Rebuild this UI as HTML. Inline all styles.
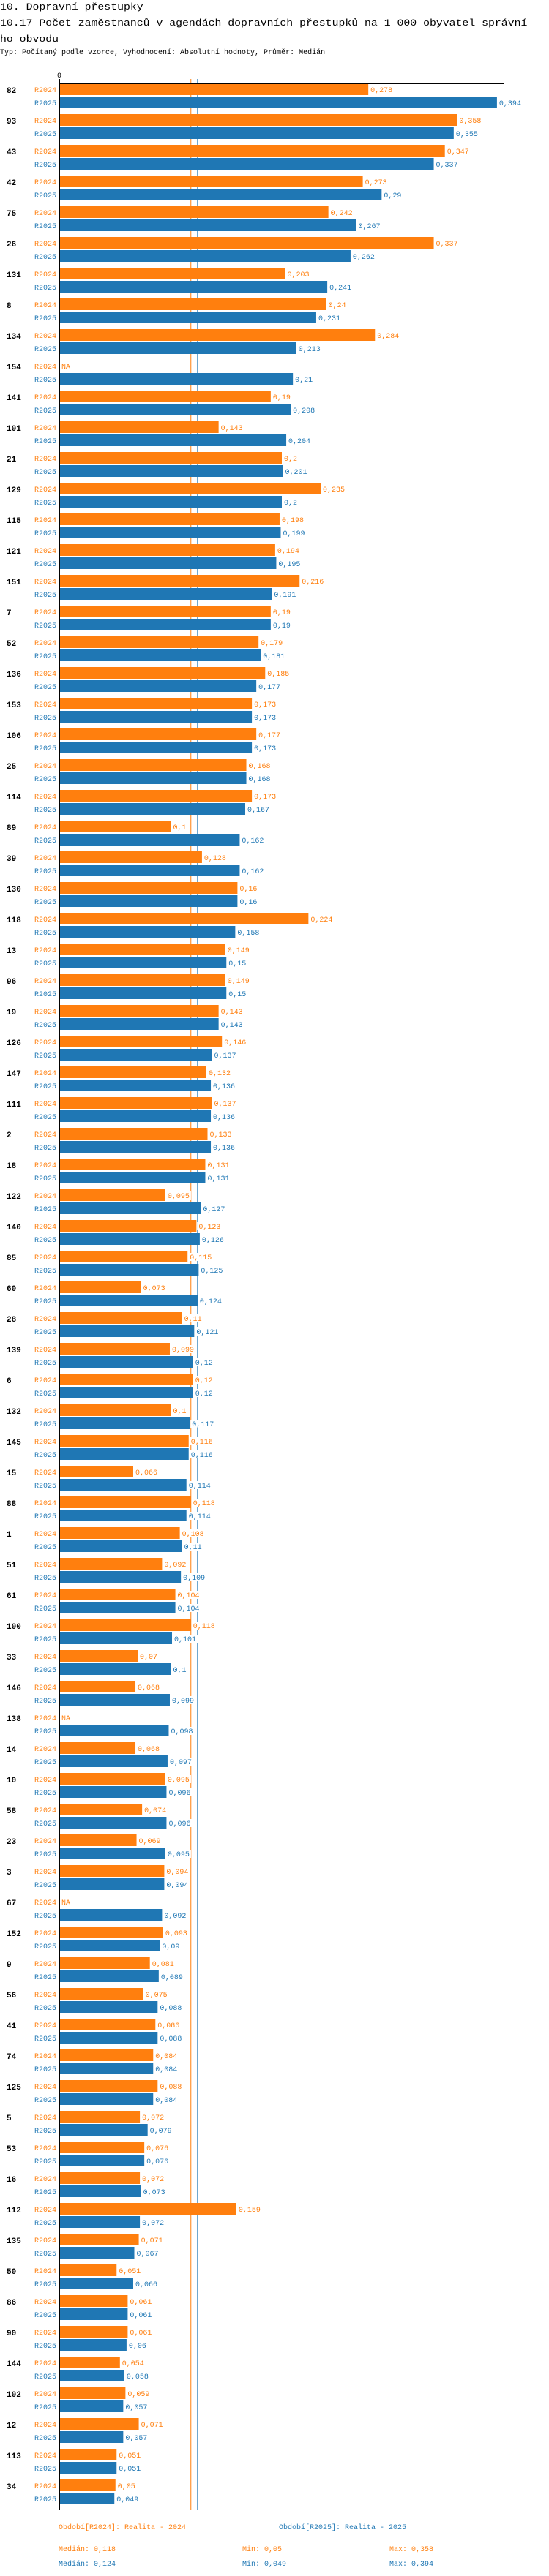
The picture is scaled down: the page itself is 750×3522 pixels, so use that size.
<!DOCTYPE html>
<html lang="cs">
<head>
<meta charset="utf-8">
<style>
  html,body{margin:0;padding:0;background:#fff;}
  body{width:750px;height:3522px;overflow:hidden;position:relative;font-family:"Liberation Mono",monospace;}
  .t{position:absolute;left:0;white-space:pre;font-size:13px;line-height:13px;color:#000;transform-origin:0 50%;transform:scaleX(1.14);}
  .sub{position:absolute;left:0;top:68px;white-space:pre;font-size:10px;line-height:10px;color:#000;}
  svg{position:absolute;left:0;top:0;}
</style>
</head>
<body>
<div class="t" style="top:3px">10. Dopravní přestupky</div>
<div class="t" style="top:25px">10.17 Počet zaměstnanců v agendách dopravních přestupků na 1 000 obyvatel správní</div>
<div class="t" style="top:47px">ho obvodu</div>
<div class="sub">Typ: Počítaný podle vzorce, Vyhodnocení: Absolutní hodnoty, Průměr: Medián</div>
<svg id="chart" width="750" height="3522"></svg>
<script>
const categories = ["82","93","43","42","75","26","131","8","134","154","141","101","21","129","115","121","151","7","52","136","153","106","25","114","89","39","130","118","13","96","19","126","147","111","2","18","122","140","85","60","28","139","6","132","145","15","88","1","51","61","100","33","146","138","14","10","58","23","3","67","152","9","56","41","74","125","5","53","16","112","135","50","86","90","144","102","12","113","34"];
const values2024 = [0.278,0.358,0.347,0.273,0.242,0.337,0.203,0.24,0.284,null,0.19,0.143,0.2,0.235,0.198,0.194,0.216,0.19,0.179,0.185,0.173,0.177,0.168,0.173,0.1,0.128,0.16,0.224,0.149,0.149,0.143,0.146,0.132,0.137,0.133,0.131,0.095,0.123,0.115,0.073,0.11,0.099,0.12,0.1,0.116,0.066,0.118,0.108,0.092,0.104,0.118,0.07,0.068,null,0.068,0.095,0.074,0.069,0.094,null,0.093,0.081,0.075,0.086,0.084,0.088,0.072,0.076,0.072,0.159,0.071,0.051,0.061,0.061,0.054,0.059,0.071,0.051,0.05];
const values2025 = [0.394,0.355,0.337,0.29,0.267,0.262,0.241,0.231,0.213,0.21,0.208,0.204,0.201,0.2,0.199,0.195,0.191,0.19,0.181,0.177,0.173,0.173,0.168,0.167,0.162,0.162,0.16,0.158,0.15,0.15,0.143,0.137,0.136,0.136,0.136,0.131,0.127,0.126,0.125,0.124,0.121,0.12,0.12,0.117,0.116,0.114,0.114,0.11,0.109,0.104,0.101,0.1,0.099,0.098,0.097,0.096,0.096,0.095,0.094,0.092,0.09,0.089,0.088,0.088,0.084,0.084,0.079,0.076,0.073,0.072,0.067,0.066,0.061,0.06,0.058,0.057,0.057,0.051,0.049];
const median2024 = 0.118;
const median2025 = 0.124;
const seriesNames = ["R2024","R2025"];

const NS = "http://www.w3.org/2000/svg";
const svg = document.getElementById("chart");
const X0 = 81, SCALE = 1515, Y0 = 123, PITCH = 42;
const ORANGE = "#ff7f0e", BLUE = "#1f77b4";
const xPos = v => X0 + 1 + v * SCALE;
const yPos = i => Y0 + i * PITCH;
const fmt = v => String(v).replace(".", ",");

function mk(tag, attrs, text) {
  const e = document.createElementNS(NS, tag);
  for (const k in attrs) e.setAttribute(k, attrs[k]);
  if (text !== undefined) e.textContent = text;
  svg.appendChild(e);
  return e;
}

const bottom = 3432;
let e;
e = mk("line", {x1: xPos(median2024), x2: xPos(median2024), y1: 108, y2: bottom, stroke: ORANGE, "stroke-width": 1});


e = mk("line", {x1: xPos(median2025), x2: xPos(median2025), y1: 108, y2: bottom, stroke: BLUE, "stroke-width": 1});



categories.forEach((c, i) => {
  const ly = yPos(i);
  let t = mk("text", {x: 9, y: ly + 4, "font-size": 11, "font-weight": "bold", "font-family": "Liberation Mono, monospace", fill: "#000"}, c);
  
  
  [values2024[i], values2025[i]].forEach((v, s) => {
    const col = s === 0 ? ORANGE : BLUE;
    const top = ly - 9 + s * 18;
    const mid = top + 12;
    let l = mk("text", {x: 77, y: mid, "text-anchor": "end", "font-size": 10, "font-family": "Liberation Mono, monospace", fill: col}, seriesNames[s]);
    
    
    if (v === null) {
      let n = mk("text", {x: X0 + 3, y: mid, "font-size": 10, "font-family": "Liberation Mono, monospace", fill: col}, "NA");
      
      
      return;
    }
    let b = mk("rect", {x: X0 + 1, y: top, width: xPos(v) - X0 - 1, height: 16, fill: col});
    
    
    const g = mk("rect", {x: xPos(v) + 1, y: top + 3, width: fmt(v).length * 6 + 4, height: 11, fill: "#fff"});
    
    
    let vl = mk("text", {x: xPos(v) + 3, y: mid, "font-size": 10, "font-family": "Liberation Mono, monospace", fill: col}, fmt(v));
    
    
  });
});

e = mk("line", {x1: X0, x2: 689, y1: 114.5, y2: 114.5, stroke: "#000", "stroke-width": 1});


e = mk("line", {x1: X0, x2: X0, y1: 108, y2: bottom, stroke: "#000", "stroke-width": 2});


e = mk("text", {x: X0, y: 106, "text-anchor": "middle", "font-size": 10, "font-family": "Liberation Mono, monospace", fill: "#000"}, "0");



const legendRows = [
  [80, 3458, ORANGE, "Období[R2024]: Realita - 2024", "legend-entry-2024"],
  [381, 3458, BLUE, "Období[R2025]: Realita - 2025", "legend-entry-2025"],
  [80, 3488, ORANGE, "Medián: 0,118", "stat-median-2024"],
  [331, 3488, ORANGE, "Min: 0,05", "stat-min-2024"],
  [532, 3488, ORANGE, "Max: 0,358", "stat-max-2024"],
  [80, 3508, BLUE, "Medián: 0,124", "stat-median-2025"],
  [331, 3508, BLUE, "Min: 0,049", "stat-min-2025"],
  [532, 3508, BLUE, "Max: 0,394", "stat-max-2025"]
];
legendRows.forEach(r => {
  const t = mk("text", {x: r[0], y: r[1], "font-size": 10, "font-family": "Liberation Mono, monospace", fill: r[2]}, r[3]);
  
  
});
</script>
</body>
</html>
